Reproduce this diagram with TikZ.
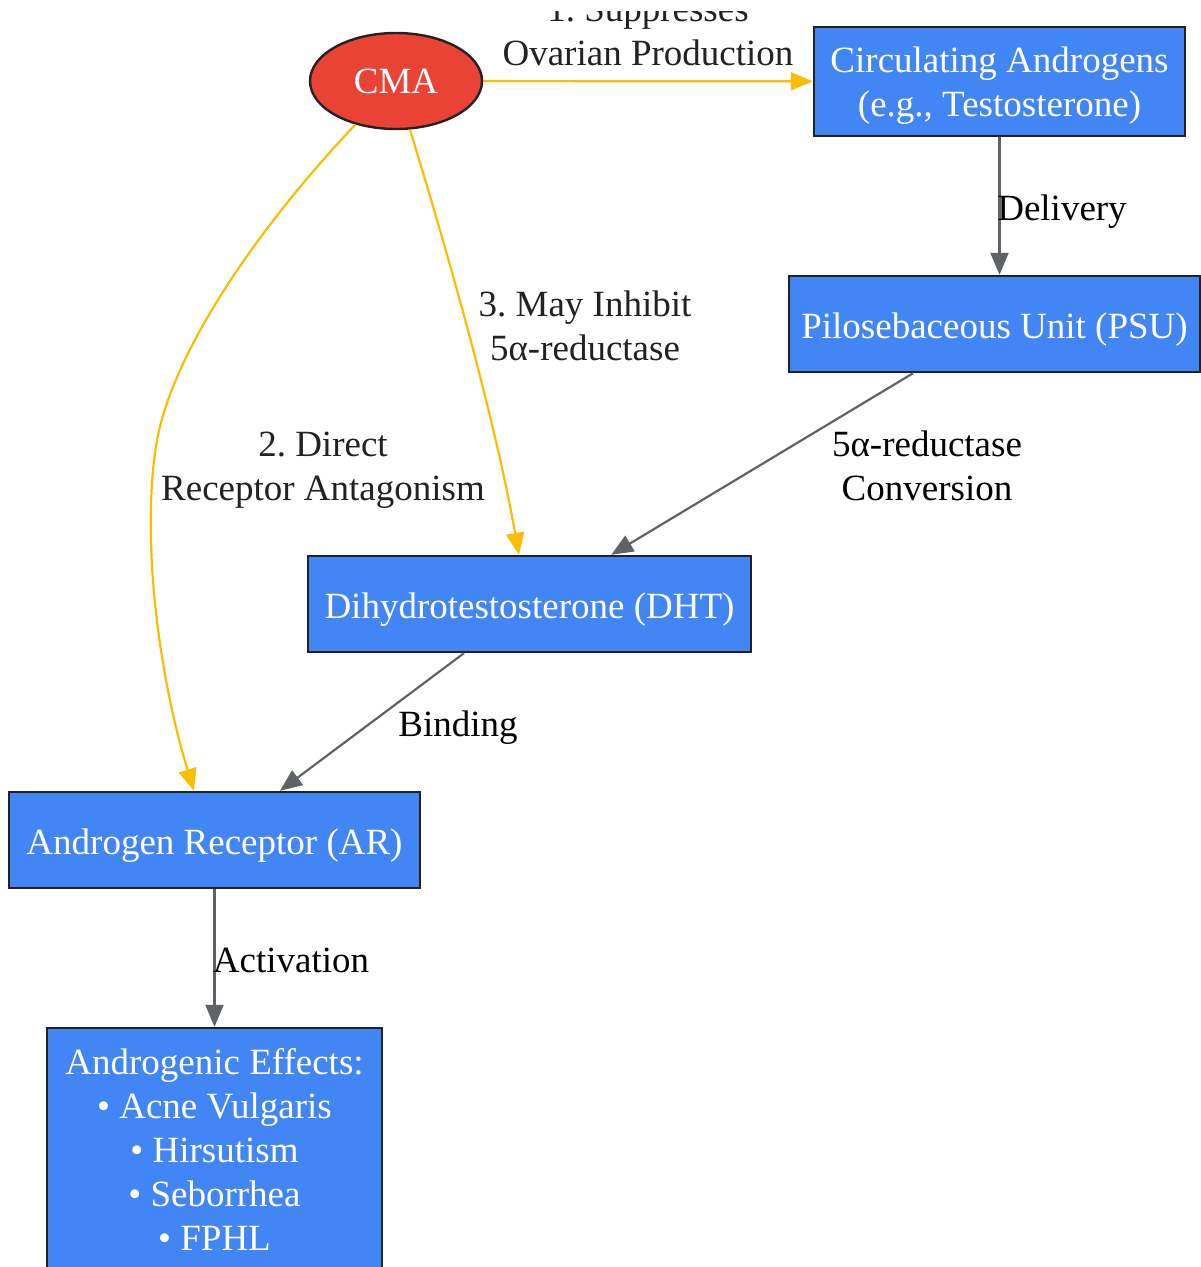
\documentclass[tikz,border=0pt]{standalone}
\usepackage{fontspec}
\setmainfont{Liberation Serif}
\usetikzlibrary{arrows.meta,shapes.geometric}
\definecolor{gblue}{HTML}{4285F4}
\definecolor{gred}{HTML}{EA4335}
\definecolor{gyellow}{HTML}{FBBC04}
\definecolor{ggray}{HTML}{5F6368}
\definecolor{bord}{HTML}{222222}
\definecolor{lbl}{HTML}{222222}
\newcommand{\ls}{\rule[-9.5pt]{0pt}{44pt}}
\newcommand{\lsb}{\rule[-7.5pt]{0pt}{44pt}}
\frenchspacing
\begin{document}
\begin{tikzpicture}[x=1pt,y=-1pt,
  box/.style={draw=bord,line width=2.4pt,fill=gblue,text=white,rectangle,inner sep=0pt,align=center,font=\fontsize{37}{44}\selectfont},
  cmastyle/.style={draw=bord,line width=2.4pt,fill=gred,text=white,ellipse,inner sep=0pt,font=\fontsize{37}{44}\selectfont},
  yedge/.style={draw=gyellow,line width=2.2pt,-{Triangle[length=22pt,width=18pt]}},
  gedge/.style={draw=ggray,line width=2.2pt,-{Triangle[length=22pt,width=18pt]}},
  elabel/.style={align=center,text=lbl,inner sep=0pt,font=\fontsize{37}{44}\selectfont},
  glabel/.style={align=center,text=black,inner sep=0pt,font=\fontsize{37}{44}\selectfont}]
\useasboundingbox (0,0) rectangle (1201,1267);
\clip (0,0) rectangle (1201,1267);
\node[cmastyle,minimum width=172pt,minimum height=96pt] (cma) at (396,81) {\ls CMA};
\node[box,minimum width=371pt,minimum height=109pt] (circ) at (999.5,81.5) {\ls Circulating Androgens\\\ls (e.g., Testosterone)};
\node[box,minimum width=411pt,minimum height=96pt] (psu) at (994.5,324) {\lsb Pilosebaceous Unit (PSU)};
\node[box,minimum width=443pt,minimum height=96pt] (dht) at (529.5,604) {\lsb Dihydrotestosterone (DHT)};
\node[box,minimum width=411pt,minimum height=96pt] (ar) at (214.5,840) {\lsb Androgen Receptor (AR)};
\node[box,minimum width=335pt,minimum height=244pt] (eff) at (214.5,1150) {\ls Androgenic Effects:\\\ls • Acne Vulgaris\\\ls • Hirsutism\\\ls • Seborrhea\\\ls • FPHL};
% edges
\draw[yedge] (cma) -- (circ);
\begin{scope}
\clip (0,11) rectangle (1201,1267);
\node[elabel] (l1) at (648,31) {\ls 1. Suppresses\\\ls Ovarian Production};
\end{scope}
\draw[gedge] (circ.south) -- (circ.south |- psu.north);
\node[glabel] (l2) at (1062,208) {\ls Delivery};
\draw[gedge] (psu) -- (dht);
\node[glabel] (l3) at (927,466) {\ls 5α-reductase\\\ls Conversion};
\draw[gedge] (dht) -- (ar);
\node[glabel] (l4) at (458,724) {\ls Binding};
\draw[gedge] (ar) -- (eff);
\node[glabel] (l5) at (291,960) {\ls Activation};
\coordinate (dhtin) at ([xshift=-10.5pt]dht.north);
\draw[yedge] (cma.286) .. controls (450,260) and (495,420) .. (dhtin);
\node[elabel] (l6) at (585,326) {\ls 3. May Inhibit\\\ls 5α-reductase};
\coordinate (arin) at ([xshift=-20.5pt]ar.north);
\draw[yedge] (cma.227) .. controls (265,220) and (175,345) .. (157,440) .. controls (140,540) and (160,680) .. (arin);
\node[elabel] (l7) at (323,466) {\ls 2. Direct\\\ls Receptor Antagonism};
\end{tikzpicture}
\end{document}
